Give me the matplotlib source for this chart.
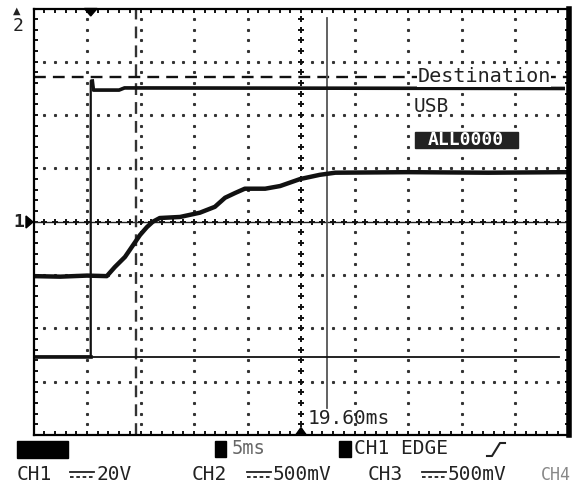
import numpy as np
import matplotlib
matplotlib.use("Agg")
import matplotlib.pyplot as plt
from matplotlib.lines import Line2D
from matplotlib.patches import Rectangle

W, H = 573, 487
MONO = "DejaVu Sans Mono"

# screen divisions: 10 x 8
# CH2 (thick, noisy trace) in divisions
ch2_x = [0.0, 0.5, 1.0, 1.37, 1.52, 1.71, 1.86, 1.99, 2.12, 2.23, 2.36, 2.74,
         3.11, 3.39, 3.58, 3.77, 3.95, 4.33, 4.61, 4.98, 5.35, 5.64, 7.0, 8.5, 9.93]
ch2_y = [2.98, 2.97, 2.99, 2.98, 3.15, 3.34, 3.56, 3.75, 3.90, 4.00, 4.07, 4.09,
         4.17, 4.28, 4.45, 4.54, 4.62, 4.62, 4.67, 4.80, 4.88, 4.92, 4.93, 4.92, 4.93]

# CH1 step (trigger edge)
ch1_x = [0.0, 1.07, 1.07, 1.10, 1.12, 1.6, 1.7, 9.9]
ch1_y = [1.47, 1.47, 6.64, 6.64, 6.47, 6.47, 6.51, 6.50]

# CH3 flat level
ch3_x = [0.0, 9.82]
ch3_y = [1.47, 1.47]

trig_pos = 1.07
cursor_ref = 1.92      # dash-dot time cursor
cursor_t = 5.48        # solid time cursor
cursor_v = 6.72        # dashed level cursor
cursor_label = "19.60ms"

row1 = [("5ms", 232), ("CH1 EDGE", 354)]
row2 = [("CH1", 17, "20V", 70), ("CH2", 192, "500mV", 247), ("CH3", 368, "500mV", 422)]

fig = plt.figure(figsize=(W / 100, H / 100), dpi=100)
ax = fig.add_axes([33.5 / W, (H - 435) / H, 535 / W, 426.5 / H])
ax.set_xlim(0, 10)
ax.set_ylim(0, 8)

def fpos(x, y):
    return x / W, 1 - y / H

# frame
for s in ["left", "top", "bottom"]:
    ax.spines[s].set_linewidth(1.6)
ax.spines["right"].set_linewidth(4)
ax.set_xticks(np.arange(0, 10.01, 0.2))
ax.set_yticks(np.arange(0, 8.01, 0.2))
ax.tick_params(direction="in", length=3, width=1.3, top=True, right=True,
               labelbottom=False, labelleft=False)

# dotted graticule
dx = np.arange(0.2, 10, 0.2)
dy = np.arange(0.2, 8, 0.2)
for gx in [1, 2, 3, 4, 6, 7, 8, 9]:
    ax.plot(np.full_like(dy, gx), dy, ls="none", marker="s", ms=1.2, color="#333")
for gy in [1, 2, 3, 5, 6, 7]:
    ax.plot(dx, np.full_like(dx, gy), ls="none", marker="s", ms=1.2, color="#333")
# centre lines
ax.axhline(4, color="#222", lw=1.0)
ax.plot(dx, np.full_like(dx, 4), ls="none", marker="+", ms=5, mew=1.4, color="#111")
ax.plot(np.full_like(dy, 5), dy, ls="none", marker="+", ms=5, mew=1.4, color="#111")

# cursors
ax.axvline(cursor_ref, color="#333", lw=1.7, ls=(0, (5, 3)))
ax.axhline(cursor_v, color="#111", lw=1.7, ls=(0, (5, 3)))
ax.plot([cursor_t, cursor_t], [0.51, 7.82], color="#555", lw=1.3)

# traces
ax.plot(ch3_x, ch3_y, color="#111", lw=1.3)
ax.plot(ch1_x, ch1_y, color="#111", lw=1.6)
ax.plot(ch1_x[:2], ch1_y[:2], color="#111", lw=2.6)
ax.plot(ch1_x[3:], ch1_y[3:], color="#111", lw=2.6)
ax.plot(ch2_x, ch2_y, color="#111", lw=3.2, solid_joinstyle="round")

# markers on frame
ax.fill([trig_pos - 0.12, trig_pos + 0.12, trig_pos], [8, 8, 7.86], color="k", clip_on=False)
ax.fill([4.9, 5.1, 5.0], [0, 0, 0.14], color="k", clip_on=False)

# on-screen texts
ax.text(9.67, cursor_v, "Destination", family=MONO, fontsize=14.5, ha="right", va="center",
        color="#222", bbox=dict(fc="white", ec="none", pad=0.5))
fig.text(*fpos(414, 107), "USB", family=MONO, fontsize=14, va="center", color="#222")
fig.add_artist(Rectangle(fpos(415, 148), 103 / W, 16 / H, color="#222"))
fig.text(*fpos(466, 140), "ALL0000", family=MONO, fontsize=13, ha="center", va="center",
         color="white", fontweight="bold")
fig.text(*fpos(308, 419), cursor_label, family=MONO, fontsize=14, va="center", color="#222")

# channel markers left
fig.text(*fpos(17, 11), "\u25b2", fontsize=7, ha="center", va="center", color="#222")
fig.text(*fpos(18, 26), "2", family=MONO, fontsize=13, ha="center", va="center", color="#222")
fig.text(*fpos(19, 222), "1", family=MONO, fontsize=13, fontweight="bold", ha="center",
         va="center", color="#222")
fig.add_artist(plt.Polygon([fpos(26, 216), fpos(26, 228), fpos(33, 222)], color="k"))

# bottom status area
fig.add_artist(Rectangle(fpos(17, 458), 51 / W, 17 / H, color="black"))
fig.add_artist(Rectangle(fpos(215, 457), 11 / W, 16 / H, color="black"))
fig.add_artist(Rectangle(fpos(339, 457), 12 / W, 16 / H, color="black"))
fig.text(*fpos(row1[0][1], 449), row1[0][0], family=MONO, fontsize=13.5, va="center", color="#666")
fig.text(*fpos(row1[1][1], 449), row1[1][0], family=MONO, fontsize=14, va="center", color="#222")
# trigger slope symbol
fig.add_artist(Line2D([487 / W, 492 / W, 500 / W, 505 / W],
                      [1 - 456 / H, 1 - 456 / H, 1 - 443 / H, 1 - 443 / H], color="#222", lw=1.5))

for name, x0, val, xs in row2:
    fig.text(*fpos(x0, 475), name, family=MONO, fontsize=14, va="center", color="#222")
    fig.add_artist(Line2D([xs / W, (xs + 24) / W], [1 - 472 / H] * 2, color="#222", lw=1.3))
    fig.add_artist(Line2D([xs / W, (xs + 24) / W], [1 - 477 / H] * 2, color="#222", lw=1.3,
                          ls=(0, (2, 1.5))))
    fig.text(*fpos(xs + 26, 475), val, family=MONO, fontsize=14, va="center", color="#222")
fig.text(*fpos(541, 475), "CH4", family=MONO, fontsize=12, va="center", color="#888")

fig.savefig("out.png", dpi=100)
